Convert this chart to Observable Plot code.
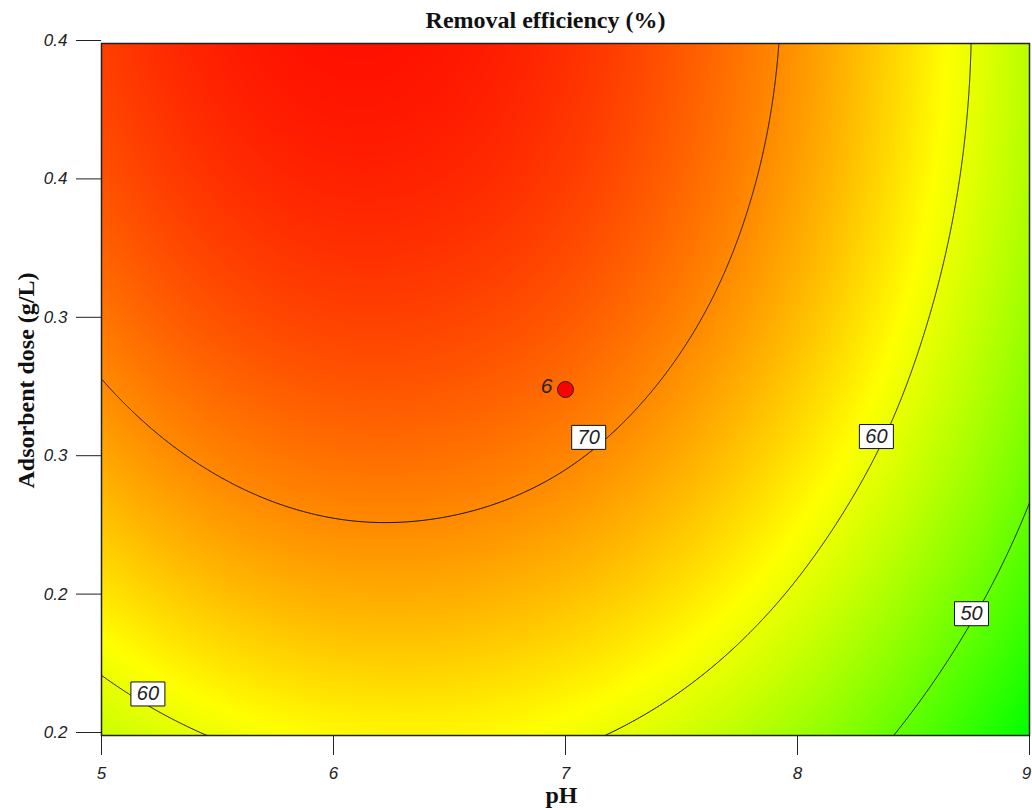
<!DOCTYPE html>
<html>
<head>
<meta charset="utf-8">
<script src="https://cdn.jsdelivr.net/npm/d3@7"></script>
<script src="https://cdn.jsdelivr.net/npm/@observablehq/plot@0.6"></script>
<style>
  html, body { margin: 0; padding: 0; background: #fff; }
  #chart svg { display: block; }
</style>
</head>
<body>
<div id="chart"></div>
<script>
// ---- Data ----
const pH = [5, 5.5, 6, 6.5, 7, 7.5, 8, 8.5, 9];
const dose = [0.15, 0.2, 0.25, 0.3, 0.35, 0.4];
// Removal efficiency (%) at each (dose row, pH column)
const removal015 = [57.4, 60.2, 61.7, 61.9, 60.7, 58.2, 54.3, 49.0, 42.4];
const removal020 = [63.1, 65.9, 67.3, 67.3, 66.0, 63.4, 59.4, 54.0, 47.3];
const removal025 = [67.8, 70.5, 71.8, 71.7, 70.3, 67.5, 63.4, 58.0, 51.1];
const removal030 = [71.4, 74.0, 75.2, 75.0, 73.5, 70.6, 66.4, 60.8, 53.9];
const removal035 = [74.0, 76.4, 77.5, 77.2, 75.6, 72.6, 68.3, 62.6, 55.6];
const removal040 = [75.4, 77.8, 78.8, 78.4, 76.7, 73.6, 69.2, 63.4, 56.2];
const contourLevels = [50, 60, 70];
const contourLabelPH = [7.10, 8.34, 8.75, 5.20];
const contourLabelDose = [0.2577, 0.258, 0.194, 0.165];
const contourLabelText = ["70", "60", "50", "60"];
const centerPH = [7];
const centerDose = [0.275];
const centerCount = ["6"];
const xTicks = [5, 6, 7, 8, 9];
const xTickLabels = ["5", "6", "7", "8", "9"];
const yTicks = [0.15, 0.2, 0.25, 0.3, 0.35, 0.4];
const yTickLabels = ["0.2", "0.2", "0.3", "0.3", "0.4", "0.4"];
const titleText = "Removal efficiency (%)";
const xLabel = "pH";
const yLabel = "Adsorbent dose (g/L)";

// ---- Smooth (Catmull-Rom) resampling of the read grid ----
const grid = [removal015, removal020, removal025, removal030, removal035, removal040];
function cr(p0, p1, p2, p3, t) {
  return p1 + 0.5 * t * (p2 - p0 + t * (2 * p0 - 5 * p1 + 4 * p2 - p3 + t * (3 * (p1 - p2) + p3 - p0)));
}
function at(a, i) {
  const n = a.length;
  if (i < 0) return 3 * a[0] - 3 * a[1] + a[2];
  if (i >= n) return 3 * a[n - 1] - 3 * a[n - 2] + a[n - 3];
  return a[i];
}
function interp1(vals, coords, c) {
  const n = vals.length;
  const step = coords[1] - coords[0];
  const u = (c - coords[0]) / step;
  let i = Math.floor(u);
  if (i < 0) i = 0;
  if (i > n - 2) i = n - 2;
  const t = u - i;
  return cr(at(vals, i - 1), at(vals, i), at(vals, i + 1), at(vals, i + 2), t);
}
function removalAt(x, y) {
  const col = grid.map(row => interp1(row, pH, x));
  return interp1(col, dose, y);
}

const labels = contourLabelText.map((t, i) => ({x: contourLabelPH[i], y: contourLabelDose[i], text: t}));
const centers = centerCount.map((t, i) => ({x: centerPH[i], y: centerDose[i], text: t}));
const boxSymbol = { draw(context) { context.rect(-17, -12, 34, 24); } };
const lastX = xTicks[xTicks.length - 1];

const sans = "'Liberation Sans', Arial, sans-serif";
const serif = "'Liberation Serif', 'Times New Roman', serif";

const chart = Plot.plot({
  width: 1032,
  height: 808,
  marginTop: 43,
  marginLeft: 101,
  marginRight: 3,
  marginBottom: 73,
  style: { background: "white", overflow: "visible" },
  x: { domain: [5, 9] },
  y: { domain: [0.15, 0.4] },
  color: {
    type: "linear",
    domain: [42.4, 61.5, 80],
    range: ["#00ff00", "#ffff00", "#ff0000"],
    interpolate: "rgb"
  },
  marks: [
    Plot.raster({ fill: removalAt, x1: 5, x2: 9, y1: 0.15, y2: 0.4, pixelSize: 1 }),
    Plot.contour({
      value: removalAt, x1: 4.9, x2: 9.1, y1: 0.14, y2: 0.41,
      thresholds: contourLevels, stroke: "#111", fill: "none", strokeWidth: 1, clip: "frame", pixelSize: 1
    }),
    Plot.frame({ stroke: "#222", strokeWidth: 1.5 }),
    Plot.axisY(yTicks, {
      tickSize: 25, tickPadding: 9, dy: -3,
      tickFormat: d => yTickLabels[yTicks.indexOf(d)],
      fontSize: 17, fontStyle: "italic", fontFamily: sans, fill: "#222", stroke: "#222", label: null
    }),
    Plot.axisX(xTicks, {
      tickSize: 20, tickPadding: 11,
      tickFormat: d => d === lastX ? "" : xTickLabels[xTicks.indexOf(d)],
      fontSize: 17, fontStyle: "italic", fontFamily: sans, fill: "#222", stroke: "#222", label: null
    }),
    Plot.axisX([lastX], {
      tickSize: 0, tickPadding: 31, dx: -3,
      tickFormat: d => xTickLabels[xTicks.indexOf(d)],
      fontSize: 17, fontStyle: "italic", fontFamily: sans, fill: "#222", stroke: "none", label: null
    }),
    Plot.dot(labels, { x: "x", y: "y", symbol: boxSymbol, fill: "white", stroke: "#111", strokeWidth: 1 }),
    Plot.text(labels, { x: "x", y: "y", text: "text", fontSize: 20, fontStyle: "italic", fontFamily: sans, fill: "#222" }),
    Plot.dot(centers, { x: "x", y: "y", r: 8, fill: "#ff0000", stroke: "#222", strokeWidth: 1 }),
    Plot.text(centers, { x: "x", y: "y", text: "text", textAnchor: "end", dx: -13, dy: -3, fontSize: 21, fontStyle: "italic", fontFamily: sans, fill: "#222" }),
    Plot.text([titleText], { frameAnchor: "top", lineAnchor: "bottom", dx: -20, dy: -16, fontSize: 24, fontWeight: "bold", fontFamily: serif, fill: "#111" }),
    Plot.text([xLabel], { frameAnchor: "bottom", lineAnchor: "bottom", dx: -4, dy: 67, fontSize: 24, fontWeight: "bold", fontFamily: serif, fill: "#111" }),
    Plot.text([yLabel], { frameAnchor: "left", textAnchor: "middle", lineAnchor: "bottom", rotate: -90, dx: -68, dy: -9, fontSize: 24, fontWeight: "bold", fontFamily: serif, fill: "#111" })
  ]
});
document.getElementById("chart").appendChild(chart);
</script>
</body>
</html>
